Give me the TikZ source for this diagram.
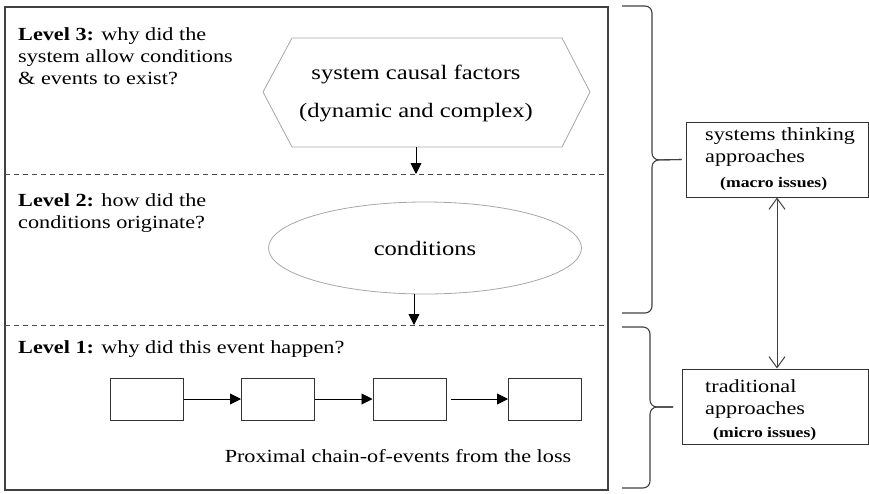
\documentclass[tikz,border=0pt]{standalone}
\usepackage{fontspec}
\setmainfont{Liberation Serif}[FakeStretch=1.2]
\usetikzlibrary{arrows.meta,shapes.geometric}

\tikzset{
  evbox/.style={draw=black!80,line width=1pt,minimum width=73pt,minimum height=42pt,inner sep=0pt},
  rbox/.style={draw=black!80,line width=1pt,inner sep=0pt},
  lvl/.style={anchor=north west,align=left,inner sep=0pt,font=\fontsize{18.5}{22}\selectfont},
  big/.style={font=\fontsize{20.5}{25}\selectfont},
  small/.style={anchor=base west,inner sep=0pt,font=\bfseries\fontsize{14.7}{17}\selectfont},
  sep/.style={black!70,line width=0.9pt,dash pattern=on 5pt off 4pt},
  fwd/.style={-{Triangle[length=11pt,width=11pt]},line width=0.9pt},
  both/.style={{Straight Barb[length=11pt,width=16pt]}-{Straight Barb[length=11pt,width=16pt]},black!75,line width=1pt},
  brace/.style={black!75,line width=1.1pt,rounded corners=7pt},
}

\begin{document}
\begin{tikzpicture}[x=1pt,y=-1pt]
\useasboundingbox (0,0) rectangle (869,493);
\draw[black!75,line width=1.3pt] (5,7) rectangle (608,490);
\draw[sep] (5,174) -- (608,174);
\draw[sep] (5,325) -- (608,325);
% level 3
\node[lvl] (lev3) at (18,27) {\textbf{Level 3:} why did the\\system allow conditions\\\& events to exist?};
\draw[black!35,line width=0.8pt] (263,92) -- (292,38) -- (562,38) -- (590,92) -- (562,147) -- (292,147) -- cycle;
\node[big,align=center] (hex) at (416,93) {system causal factors\\[13pt](dynamic and complex)};
\coordinate (hexb) at (416,147);
\coordinate (d3) at (416,174);
\draw[fwd] (hexb) -- (d3);
% level 2
\node[lvl] (lev2) at (18,193) {\textbf{Level 2:} how did the\\conditions originate?};
\node[big,ellipse,draw=black!35,line width=0.8pt,minimum width=313pt,minimum height=92pt,inner sep=0pt] (cond) at (425,248) {conditions};
\coordinate (condb) at (414,294);
\coordinate (d2) at (414,325);
\draw[fwd] (condb) -- (d2);
% level 1
\node[lvl] (lev1) at (18,340) {\textbf{Level 1:} why did this event happen?};
\node[evbox] (ev1) at (146.5,399) {};
\node[evbox] (ev2) at (278,399) {};
\node[evbox] (ev3) at (409.5,399) {};
\node[evbox] (ev4) at (545,399) {};
\draw[fwd] (ev1) -- (ev2);
\draw[fwd] (ev2) -- (ev3);
\draw[fwd] ([xshift=4pt]ev3.east) -- (ev4);
\node[font=\fontsize{18.5}{22}\selectfont,anchor=base,inner sep=0pt] (loss) at (398,462) {Proximal chain-of-events from the loss};
% right side
\node[rbox,minimum width=182pt,minimum height=75pt] (sysbox) at (777,159.5) {};
\node[lvl] (systxt) at (705,127) {systems thinking\\approaches};
\node[small] (macro) at (720,187) {(macro issues)};
\node[rbox,minimum width=186pt,minimum height=75pt] (tradbox) at (775,406.5) {};
\node[lvl] (tradtxt) at (705,379) {traditional\\approaches};
\node[small] (micro) at (713,437) {(micro issues)};
\draw[both] (sysbox.south) -- (sysbox.south |- tradbox.north);
% braces
\draw[brace] (622,6) -- (652,6) -- (652,160) -- ([xshift=-4pt]sysbox.west);
\draw[brace] ([xshift=-4pt]sysbox.west) -- (652,160) -- (652,313) -- (622,313);
\coordinate (tip2) at (673,407);
\draw[brace] (622,327) -- (650,327) -- (650,407) -- (tip2);
\draw[brace] (tip2) -- (650,407) -- (650,488) -- (622,488);
\end{tikzpicture}
\end{document}
